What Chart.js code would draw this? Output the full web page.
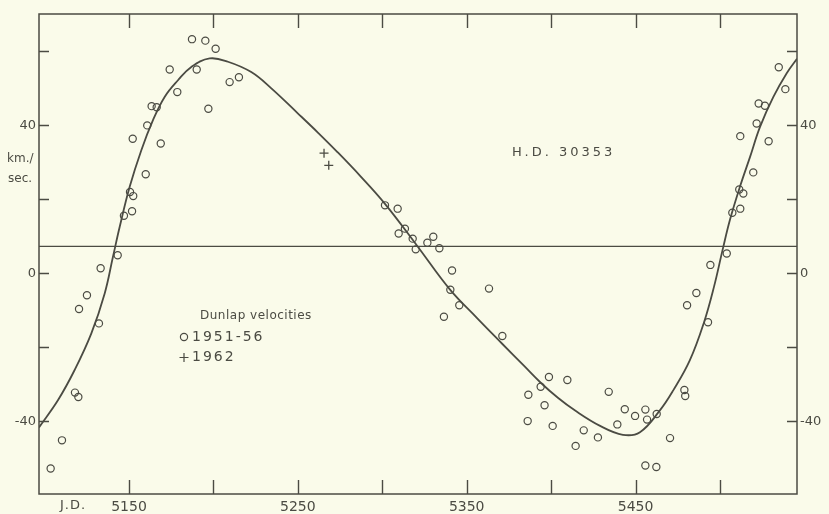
<!DOCTYPE html>
<html><head><meta charset="utf-8">
<script src="https://cdn.jsdelivr.net/npm/chart.js"></script>
<style>html,body{margin:0;padding:0;background:#fafbea;}canvas{display:block;}</style>
</head><body>
<canvas id="c" width="829" height="514"></canvas>
<script>
// ---- data ----
const xTicks = [5150, 5200, 5250, 5300, 5350, 5400, 5450, 5500];
const xLabels = [5150, 5250, 5350, 5450];
const yTicks = [-40, -20, 0, 20, 40, 60];
const yLabels = [-40, 0, 40];

// Dunlap velocities 1951-56 (circles)
const obsJD = [5187.3,5195.2,5201.3,5174.1,5190.1,5178.6,5209.6,5215.1,5197.0,5163.4,5166.4,5160.8,5152.2,5168.8,5159.9,5150.6,5152.5,5151.8,5147.0,5143.3,5133.2,5125.1,5120.4,5132.2,5118.0,5120.0,5110.3,5103.6,
  5301.6,5309.1,5313.4,5309.7,5318.0,5330.2,5326.7,5319.8,5333.8,5341.3,5340.3,5345.6,5336.5,5363.2,5371.1,5398.7,5409.6,5393.8,5386.5,5396.1,5386.1,5400.9,5434.1,5419.3,5414.5,5427.7,5439.2,5443.6,5449.7,5455.8,5456.8,5462.5,5470.4,5455.8,5462.3,5478.9,5479.4,
  5492.9,5480.5,5486.0,5494.3,5504.0,5507.3,5512.0,5511.4,5513.8,5519.7,5512.0,5528.8,5521.7,5522.9,5526.6,5534.8,5538.7];
const obsV = [63.3,62.9,60.7,55.1,55.1,49.0,51.7,53.0,44.5,45.2,44.9,40.0,36.4,35.1,26.8,22.0,20.9,16.8,15.6,4.9,1.4,-5.9,-9.6,-13.5,-32.2,-33.4,-45.1,-52.7,
  18.4,17.5,12.1,10.8,9.4,9.9,8.3,6.5,6.8,0.8,-4.4,-8.6,-11.7,-4.1,-16.9,-28.0,-28.8,-30.6,-32.8,-35.6,-39.9,-41.2,-32.0,-42.4,-46.6,-44.3,-40.8,-36.7,-38.5,-36.8,-39.5,-38.0,-44.5,-51.9,-52.3,-31.5,-33.1,
  -13.2,-8.6,-5.3,2.3,5.4,16.4,17.5,22.7,21.6,27.3,37.1,35.7,40.5,45.9,45.3,55.7,49.8];

// Dunlap velocities 1962 (plus signs)
const newJD = [5265.5, 5268.3];
const newV = [32.5, 29.2];

// velocity curve
const curveJD = [5096.7,5108.0,5117.8,5127.7,5135.6,5140.5,5144.5,5150.4,5157.3,5164.2,5171.1,5179.0,5186.9,5197.8,5208.6,5222.4,5234.3,5250.1,5262.0,5273.0,5287.0,5301.6,5320.6,5340.0,5356.0,5371.0,5384.0,5394.0,5404.0,5414.0,5429.0,5442.5,5452.6,5464.4,5472.3,5482.1,5490.6,5496.5,5501.6,5505.9,5511.8,5517.8,5523.7,5531.6,5539.5,5545.6];
const curveV = [-41.6,-34.2,-26.1,-16.2,-5.4,4.5,12.6,23.4,33.3,41.4,47.7,52.2,55.8,58.1,57.2,54.4,50.0,43.2,38.0,33.0,26.3,18.8,7.5,-4.3,-12.0,-19.0,-25.0,-29.6,-33.6,-37.0,-41.2,-43.6,-42.9,-37.0,-31.6,-23.5,-13.1,-3.5,6.5,14.5,23.4,31.5,39.6,47.7,54.1,58.0];

// systemic velocity line
const gammaV = 7.3;

const X_MIN = 5096.7, X_MAX = 5545.6, Y_MIN = -59.6, Y_MAX = 70.1;

// ---- styles ----
const INK = '#4b4b43';
const BG = '#fafbea';
const FONT = "'DejaVu Sans', sans-serif";

const toPts = (xs, ys) => xs.map((x, i) => ({x, y: ys[i]}));

const bgPlugin = {
  id: 'bg',
  beforeDraw(chart) {
    const c = chart.ctx;
    c.save(); c.fillStyle = BG; c.fillRect(0, 0, chart.width, chart.height); c.restore();
  }
};

const framePlugin = {
  id: 'frame',
  afterDraw(chart) {
    const c = chart.ctx, a = chart.chartArea;
    const xs = chart.scales.x, ys = chart.scales.y;
    c.save();
    c.strokeStyle = INK; c.lineWidth = 1.5;
    c.strokeRect(a.left, a.top, a.right - a.left, a.bottom - a.top);
    c.lineWidth = 1.4;
    c.beginPath();
    xTicks.forEach(v => {
      const p = Math.round(xs.getPixelForValue(v)) + 0.5;
      c.moveTo(p, a.bottom); c.lineTo(p, a.bottom - 14);
      c.moveTo(p, a.top); c.lineTo(p, a.top + 14);
    });
    yTicks.forEach(v => {
      const p = Math.round(ys.getPixelForValue(v)) + 0.5;
      c.moveTo(a.left, p); c.lineTo(a.left + 10, p);
      c.moveTo(a.right, p); c.lineTo(a.right - 10, p);
    });
    c.stroke();

    // texts
    c.fillStyle = INK;
    c.textBaseline = 'middle';
    c.textAlign = 'left';
    c.font = "13px " + FONT;
    c.letterSpacing = '1px';
    c.fillText('J.D.', 60, 506);
    c.font = "12px " + FONT;
    c.letterSpacing = '0px';
    c.fillText('km./', 7, 159);
    c.fillText('sec.', 8, 179);
    c.font = "13px " + FONT;
    c.letterSpacing = '3px';
    c.fillText('H.D. 30353', 512, 153);
    c.font = "12px " + FONT;
    c.letterSpacing = '0.5px';
    c.fillText('Dunlap velocities', 200, 316);
    c.font = "14px " + FONT;
    c.letterSpacing = '2px';
    c.fillText('1951-56', 192, 337);
    c.fillText('1962', 192, 357);
    c.letterSpacing = '0px';
    c.lineWidth = 1.2;
    c.beginPath(); c.arc(184, 337, 3.6, 0, Math.PI * 2); c.stroke();
    c.beginPath();
    c.moveTo(179.5, 357.5); c.lineTo(188.5, 357.5);
    c.moveTo(184, 353); c.lineTo(184, 362);
    c.stroke();
    c.restore();
  }
};

const tickFont = {family: FONT, size: 13};
const yAxis = (pos, w) => ({
  type: 'linear', position: pos, min: Y_MIN, max: Y_MAX,
  afterBuildTicks: s => { s.ticks = yTicks.map(v => ({value: v})); },
  afterFit: s => { s.width = w; },
  grid: {display: false, drawTicks: false},
  border: {display: false},
  ticks: {
    color: INK, font: tickFont, padding: 3, autoSkip: false,
    callback: v => yLabels.includes(v) ? String(v) : ''
  }
});

new Chart(document.getElementById('c'), {
  type: 'scatter',
  data: {
    datasets: [
      {
        label: 'curve', data: toPts(curveJD, curveV), showLine: true,
        borderColor: INK, borderWidth: 1.8, pointRadius: 0,
        tension: 0.4, order: 3
      },
      {
        label: 'gamma', data: [{x: X_MIN, y: gammaV}, {x: X_MAX, y: gammaV}], showLine: true,
        borderColor: INK, borderWidth: 1.2, pointRadius: 0, order: 4
      },
      {
        label: '1951-56', data: toPts(obsJD, obsV),
        pointStyle: 'circle', pointRadius: 3.6, borderWidth: 1.2,
        borderColor: INK, backgroundColor: 'rgba(0,0,0,0)', order: 1
      },
      {
        label: '1962', data: toPts(newJD, newV),
        pointStyle: 'cross', pointRadius: 4.5, borderWidth: 1.3,
        borderColor: INK, backgroundColor: INK, order: 2
      }
    ]
  },
  options: {
    responsive: false, animation: false,
    layout: {padding: {top: 14, left: 0, right: 0, bottom: 0}},
    plugins: {legend: {display: false}, tooltip: {enabled: false}},
    scales: {
      x: {
        type: 'linear', min: X_MIN, max: X_MAX,
        afterBuildTicks: s => { s.ticks = xTicks.map(v => ({value: v})); },
        afterFit: s => { s.height = 20; },
        grid: {display: false, drawTicks: false},
        border: {display: false},
        ticks: {
          color: INK, font: {family: FONT, size: 14}, padding: 5, maxRotation: 0, autoSkip: false,
          callback: v => xLabels.includes(v) ? String(v) : ''
        }
      },
      y: yAxis('left', 39),
      y2: yAxis('right', 32)
    }
  },
  plugins: [bgPlugin, framePlugin]
});
</script>
</body></html>
